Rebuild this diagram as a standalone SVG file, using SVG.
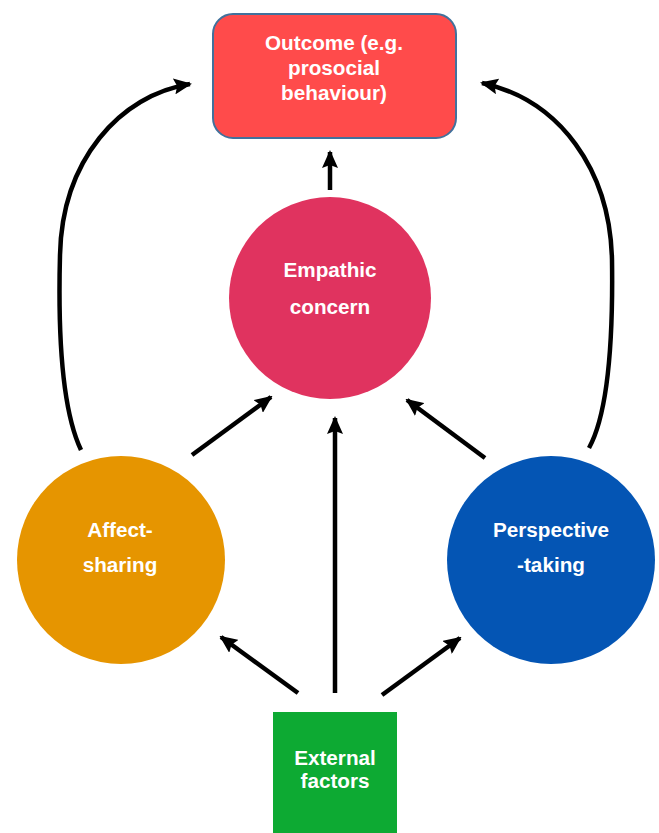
<svg xmlns="http://www.w3.org/2000/svg" width="659" height="833" viewBox="0 0 659 833">
<defs>
<marker id="ah" markerUnits="userSpaceOnUse" markerWidth="18" markerHeight="16" refX="16" refY="8" orient="auto">
<path d="M0,0 L18,8 L0,16 L3,8 Z" fill="#000"/>
</marker>
<style>
.lbl{font-family:"Liberation Sans",Arial,sans-serif;font-weight:bold;font-size:20.7px;fill:#fff;text-anchor:middle}
.conn{stroke:#000;stroke-width:4.5;fill:none;marker-end:url(#ah)}
</style>
</defs>
<rect width="659" height="833" fill="#fff"/>
<g id="connectors">
<line class="conn" x1="330" y1="190" x2="330" y2="152"/>
<line class="conn" x1="192" y1="455" x2="271" y2="397"/>
<line class="conn" x1="485" y1="458" x2="407" y2="400"/>
<line class="conn" x1="335" y1="693" x2="335" y2="418"/>
<line class="conn" x1="298" y1="693" x2="221" y2="637"/>
<line class="conn" x1="382" y1="695" x2="460" y2="638"/>
<path class="conn" d="M81,450 C62,410 58,330 60,255 C62,160 120,95 190,84"/>
<path class="conn" d="M589,448 C610,410 613,330 612,260 C610,170 560,100 482,83"/>
</g>
<g id="outcome">
<rect x="213" y="14" width="243" height="124" rx="20" ry="20" fill="#FF4B4B" stroke="#41719C" stroke-width="2"/>
<text class="lbl" x="334" y="50">Outcome (e.g.</text>
<text class="lbl" x="334" y="75">prosocial</text>
<text class="lbl" x="334" y="100">behaviour)</text>
</g>
<g id="empathic">
<circle cx="330" cy="298" r="101" fill="#E0335F"/>
<text class="lbl" x="330" y="277">Empathic</text>
<text class="lbl" x="330" y="314">concern</text>
</g>
<g id="affect">
<circle cx="121" cy="560" r="104" fill="#E69500"/>
<text class="lbl" x="120" y="537">Affect-</text>
<text class="lbl" x="120" y="572">sharing</text>
</g>
<g id="perspective">
<circle cx="551" cy="560" r="104" fill="#0455B4"/>
<text class="lbl" x="551" y="537">Perspective</text>
<text class="lbl" x="551" y="572">-taking</text>
</g>
<g id="external">
<rect x="273" y="712" width="124" height="121" fill="#0DAA33"/>
<text class="lbl" x="335" y="765">External</text>
<text class="lbl" x="335" y="788">factors</text>
</g>
</svg>
